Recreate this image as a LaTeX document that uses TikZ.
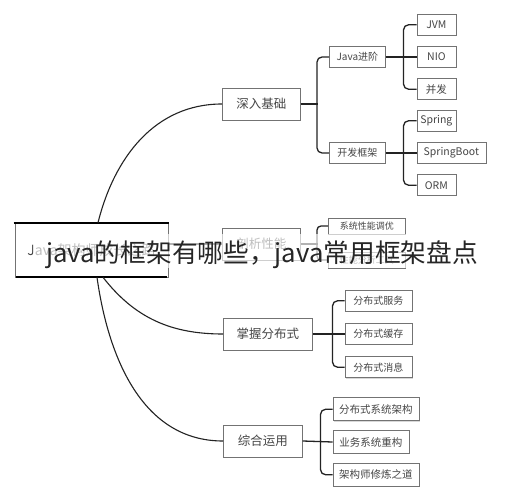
\documentclass[tikz,border=0pt]{standalone}
\usepackage{fontspec}
\setmainfont{Noto Sans CJK SC}
\usetikzlibrary{matrix,positioning,shadows}
\definecolor{boxline}{RGB}{115,115,115}
\definecolor{boxtext}{RGB}{70,70,70}
\definecolor{branchline}{RGB}{35,35,35}

\begin{document}
\begin{tikzpicture}[x=1pt,y=1pt,
  box/.style={draw=boxline,fill=white,line width=0.7pt,text=boxtext,inner sep=2pt,
    drop shadow={shadow xshift=0.8pt,shadow yshift=-0.8pt,opacity=0.3}},
  topicbox/.style={box,anchor=west,minimum height=32pt,font=\fontsize{12.5}{14}\selectfont},
  subbox/.style={box,anchor=west,minimum height=21pt,font=\fontsize{10}{12}\selectfont},
  leafbox/.style={box,anchor=west,minimum height=21pt,minimum width=39pt,font=\fontsize{10.5}{12}\selectfont},
  leafmat/.style={matrix of nodes,row sep=10.5pt,nodes={leafbox}},
  branch/.style={draw=branchline,line width=1.3pt},
  curvy/.style={draw=branchline,line width=1.1pt}]

  \path[use as bounding box,fill=white] (0,0) rectangle (529,490);

  \node[draw=boxline,line width=0.6pt,minimum width=153pt,minimum height=54pt,text=boxtext,
    font=\fontsize{14}{16}\selectfont] (root) at (91.5,240) {Java架构师成长之路};
  \draw[line width=2pt,black] ([xshift=-1pt]root.north west) -- ([xshift=1pt]root.north east)
    ([xshift=1pt]root.south west) -- ([xshift=-1pt]root.south east);

  \node[topicbox,minimum width=78pt] (deep) at (222,386) {深入基础};
  \node[topicbox,minimum width=78pt] (perf) at (222,246) {剖析性能};
  \node[topicbox,minimum width=89pt] (dist) at (223,156) {掌握分布式};
  \node[topicbox,minimum width=79pt] (apply) at (223,49) {综合运用};

  \node[subbox,minimum width=56pt] (adv) at (329,433) {Java进阶};
  \node[subbox,minimum width=56pt] (frame) at (329,337) {开发框架};
  \node[subbox,minimum width=77pt,minimum height=16pt,font=\fontsize{9}{11}\selectfont] (tune) at (328,264) {系统性能调优};
  \node[subbox,minimum width=77pt,minimum height=16pt,font=\fontsize{9}{11}\selectfont] (ana) at (328,230) {性能分析工具};

  \matrix[leafmat,anchor=west] (advleaves) at (413,433) {JVM\\
    NIO\\
    并发\\};

  \matrix[leafmat,anchor=west] (frameleaves) at (413,337) {Spring\\
    |[minimum width=69pt]| SpringBoot\\
    ORM\\};

  \matrix[matrix of nodes,row sep=11.5pt,anchor=west,nodes={subbox,minimum width=67pt}] (distkids) at (341,156) {分布式服务\\
    分布式缓存\\
    分布式消息\\};

  \matrix[matrix of nodes,row sep=9pt,anchor=west,
    nodes={subbox,minimum width=86pt,minimum height=23pt,font=\fontsize{10.5}{12}\selectfont}] (applykids) at (329,48) {分布式系统架构\\
    |[minimum width=76pt]| 业务系统重构\\
    架构师修炼之道\\};

  % draw legs from the root
  \draw[curvy] ([xshift=6.5pt]root.north) to[out=76,in=180] (deep.west);
  \draw[curvy] (root.east |- perf.west) -- (perf.west);
  \draw[curvy] ([xshift=11.5pt]root.south) to[out=-52,in=180] (dist.west);
  \draw[curvy] ([xshift=5.5pt]root.south) to[out=-82,in=180] (apply.west);

  % draw spines for each topic
  \draw[branch] (deep.east) -- ++(17,0);
  \draw[branch,rounded corners=5pt] (adv.west) -- ++(-12,0) |- (frame.west);
  \draw[branch] (adv.east) -- (advleaves-2-1.west);
  \draw[branch,rounded corners=5pt] (advleaves-1-1.west) -- ++(-13,0) |- (advleaves-3-1.west);
  \draw[branch] (frame.east) -- (frameleaves-2-1.west);
  \draw[branch,rounded corners=5pt] (frameleaves-1-1.west) -- ++(-13,0) |- (frameleaves-3-1.west);
  \draw[branch] (perf.east) -- ++(17,0);
  \draw[branch,rounded corners=4pt] (tune.west) -- ++(-11,0) |- (ana.west);
  \draw[branch] (dist.east) -- (distkids-2-1.west);
  \draw[branch,rounded corners=5pt] (distkids-1-1.west) -- ++(-12,0) |- (distkids-3-1.west);
  \draw[branch] (apply.east) -- (applykids-2-1.west);
  \draw[branch,rounded corners=5pt] (applykids-1-1.west) -- ++(-12,0) |- (applykids-3-1.west);

  % faded band and title on top
  \fill[white,opacity=0.65] (33,222) rectangle (483,256);
  \node[anchor=base,font=\fontsize{25.7}{28}\selectfont,text=black!85] (title) at (262,227) {java的框架有哪些，java常用框架盘点};

\end{tikzpicture}
\end{document}
